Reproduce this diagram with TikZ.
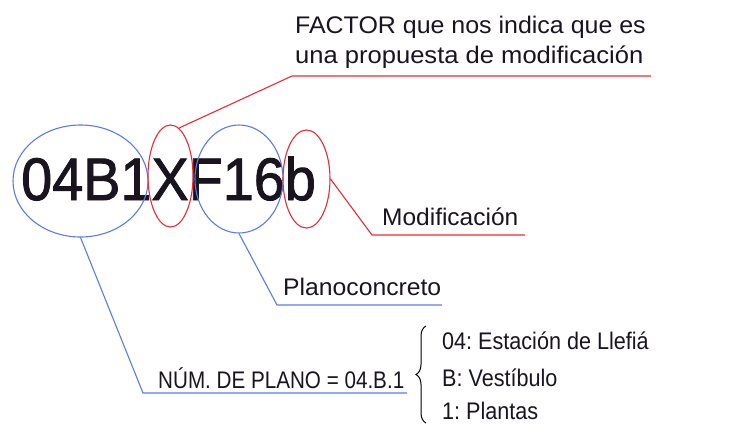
\documentclass[tikz,border=0pt]{standalone}
\usepackage{fontspec}
\usepackage{graphicx}
\setmainfont{Liberation Sans}
\newfontfamily\bigfont[FakeBold=1.5]{Liberation Sans}
\usetikzlibrary{shapes.geometric,decorations.pathreplacing}
\definecolor{lblue}{RGB}{90,122,240}
\definecolor{lred}{RGB}{240,40,50}
\definecolor{ink}{RGB}{25,20,30}
\tikzset{
  oval/.style={ellipse,draw,inner sep=0pt,line width=1.1pt},
  lbl/.style={inner sep=0pt,anchor=base west,text=ink,font=\fontsize{24}{24}\selectfont\frenchspacing},
  lead/.style={line width=1.1pt},
}
\newcommand{\sx}[2]{\scalebox{#1}[1]{#2}}
\begin{document}
\begin{tikzpicture}[x=1pt,y=-1pt]
\useasboundingbox (0,0) rectangle (745,424);
% big code
\node[inner sep=0pt,anchor=base west,text=ink,font=\bigfont\fontsize{60}{60}\selectfont] (code) at (21,200) {\sx{0.93}{04B1XF16b}};
% ellipses
\node[oval,lblue,minimum width=135pt,minimum height=112pt] (e1) at (80.5,181) {};
\node[oval,lred,minimum width=45pt,minimum height=102pt] (e2) at (170.5,176) {};
\node[oval,lblue,minimum width=88pt,minimum height=108pt] (e3) at (239,179) {};
\node[oval,lred,minimum width=47pt,minimum height=98pt] (e4) at (306.5,179) {};
% labels
\node[lbl] (f1) at (295,33) {\sx{1.04}{FACTOR que nos indica que es}};
\node[lbl] (f2) at (295,63) {\sx{1.065}{una propuesta de modificación}};
\node[lbl] (mod) at (382,225) {\sx{1.02}{Modificación}};
\node[lbl] (pla) at (283,295) {\sx{1.03}{Planoconcreto}};
\node[lbl] (num) at (158,388) {\sx{0.86}{NÚM. DE PLANO = 04.B.1}};
\node[lbl] (r1) at (442,349) {\sx{0.9}{04: Estación de Llefiá}};
\node[lbl] (r2) at (442,386) {\sx{0.9}{B: Vestíbulo}};
\node[lbl] (r3) at (442,419) {\sx{0.9}{1: Plantas}};
% leader coordinates
\coordinate (k1) at (292,76);
\coordinate (u1) at (651,76);
\coordinate (k2) at (372,235);
\coordinate (u2) at (525,235);
\coordinate (k3) at (277,305);
\coordinate (u3) at (442,305);
\coordinate (k4) at (143,393);
\coordinate (u4) at (407,393);
% leaders
\draw[lead,lred] (e2.80) -- (k1) -- (u1);
\draw[lead,lred] (e4.east) -- (k2) -- (u2);
\draw[lead,lblue] (e3.south) -- (k3) -- (u3);
\draw[lead,lblue] (e1.south) -- (k4) -- (u4);
% brace
\coordinate (b1) at (426,423);
\coordinate (b2) at (426,326);
\draw[line width=1pt,decorate,decoration={brace,amplitude=10pt}] (b1) -- (b2);
\end{tikzpicture}
\end{document}
